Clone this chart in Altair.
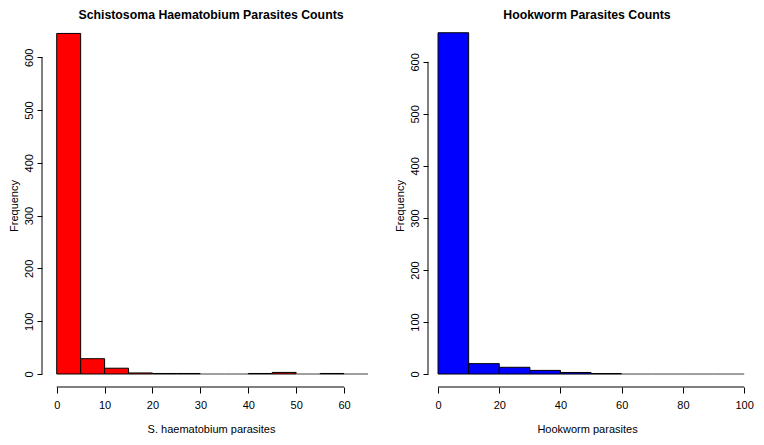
import altair as alt
import pandas as pd

# Schistosoma haematobium histogram (bin width 5)
sh_bin_start = [0, 5, 10, 15, 20, 25, 30, 35, 40, 45, 50, 55, 60]
sh_counts = [645, 29, 11, 2, 1, 1, 0, 0, 1, 3, 0, 1, 0]
sh_xticks = [0, 10, 20, 30, 40, 50, 60]

# Hookworm histogram (bin width 10)
hk_bin_start = [0, 10, 20, 30, 40, 50, 60, 70, 80, 90]
hk_counts = [656, 20, 13, 7, 3, 1, 0, 0, 0, 0]
hk_xticks = [0, 20, 40, 60, 80, 100]

y_ticks = [0, 100, 200, 300, 400, 500, 600]

FONT = "Liberation Sans"
W_L, W_R, H = 338, 318, 363


def panel(starts, counts, width, title, xtitle, color, xdom, ydom, xticks):
    bw = starts[1] - starts[0]
    df = pd.DataFrame({
        "start": starts,
        "end": [s + bw for s in starts],
        "count": counts,
    })
    xs = alt.Scale(domain=xdom, nice=False, zero=False)
    ys = alt.Scale(domain=ydom, nice=False, zero=False)
    bars = alt.Chart(df).mark_rect(strokeWidth=1).encode(
        x=alt.X("start:Q", scale=xs, axis=alt.Axis(
            values=xticks, title=xtitle, grid=False, domain=False,
            tickColor="black", tickSize=6, tickWidth=1, labelPadding=6,
            labelFont=FONT, labelFontSize=11, labelColor="black",
            titleFont=FONT, titleFontSize=11, titleFontWeight="normal",
            titleColor="black", titlePadding=13)),
        x2="end:Q",
        y=alt.Y("count:Q", scale=ys, axis=alt.Axis(
            values=y_ticks, title="Frequency", grid=False, domain=False,
            tickColor="black", tickSize=5, tickWidth=1, labelPadding=3,
            labelAngle=270, labelAlign="center", labelBaseline="bottom",
            labelFont=FONT, labelFontSize=11, labelColor="black",
            titleFont=FONT, titleFontSize=11, titleFontWeight="normal",
            titleColor="black", titlePadding=4)),
        y2=alt.datum(0),
        color=alt.value(color),
        stroke=alt.condition("datum.count == 0", alt.value("#808080"), alt.value("black")),
    )
    xline_df = pd.DataFrame({"a": [xticks[0]], "b": [xticks[-1]]})
    xline = alt.Chart(xline_df).mark_rule(color="black", strokeWidth=1).encode(
        x=alt.X("a:Q", scale=xs), x2="b:Q", y=alt.value(H))
    yline_df = pd.DataFrame({"a": [y_ticks[0]], "b": [y_ticks[-1]]})
    yline = alt.Chart(yline_df).mark_rule(color="black", strokeWidth=1).encode(
        y=alt.Y("a:Q", scale=ys), y2="b:Q", x=alt.value(0))
    return alt.layer(bars, xline, yline).properties(
        width=width, height=H,
        view=alt.ViewBackground(stroke="transparent", strokeWidth=0),
        title=alt.TitleParams(title, font=FONT, fontSize=12.3, fontWeight="bold",
                              color="black", anchor="middle", offset=3),
    )


left = panel(sh_bin_start, sh_counts, W_L,
             "Schistosoma Haematobium Parasites Counts",
             "S. haematobium parasites", "#FF0000",
             [-3.07, 67.5], [-24.6, 662.9], sh_xticks)
right = panel(hk_bin_start, hk_counts, W_R,
              "Hookworm Parasites Counts",
              "Hookworm parasites", "#0000FF",
              [-3.28, 100.6], [-24.9, 672.8], hk_xticks)

chart = alt.hconcat(left, right, spacing=14).properties(
    padding={"left": 0, "top": 0, "right": 0, "bottom": 5}
).configure_view(stroke="transparent", strokeWidth=0).configure(background="white")

chart.save("out.html", embed_options={"renderer": "svg", "actions": False})
